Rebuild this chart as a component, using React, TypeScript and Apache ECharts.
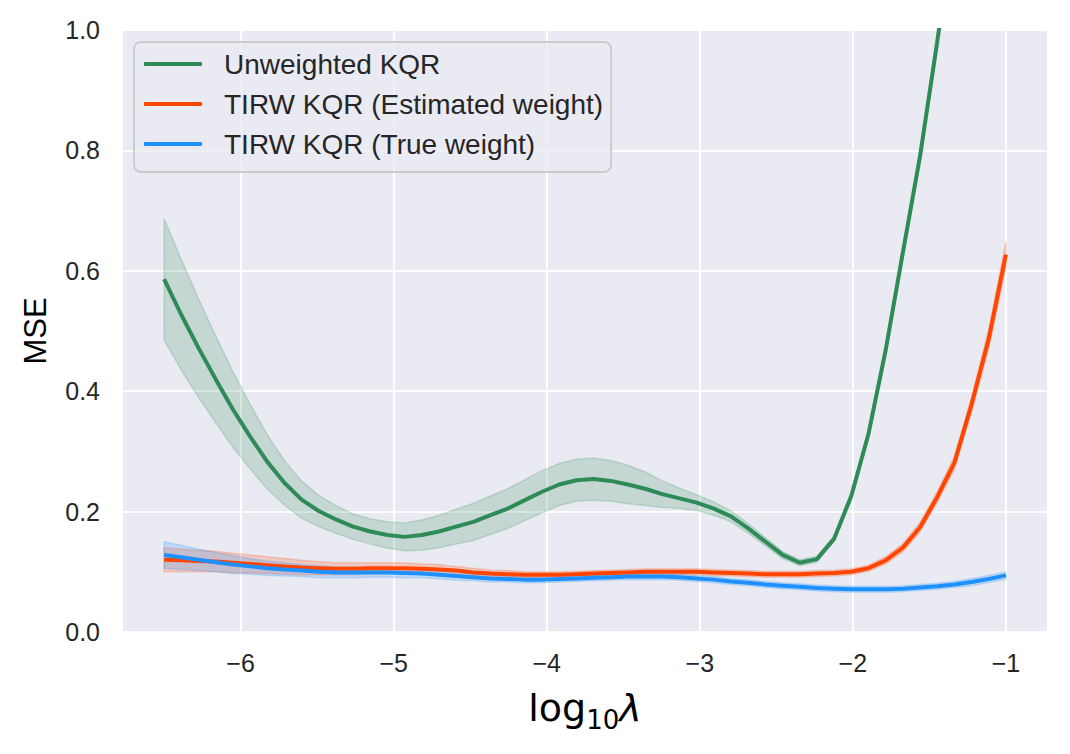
import React, { useEffect, useRef } from "react";
import * as echarts from "echarts";

// log10(lambda) grid
const logLambda = [
  -6.5, -6.3878, -6.2755, -6.1633, -6.051, -5.9388, -5.8265, -5.7143, -5.602, -5.4898,
  -5.3776, -5.2653, -5.1531, -5.0408, -4.9286, -4.8163, -4.7041, -4.5918, -4.4796, -4.3673,
  -4.2551, -4.1429, -4.0306, -3.9184, -3.8061, -3.6939, -3.5816, -3.4694, -3.3571, -3.2449,
  -3.1327, -3.0204, -2.9082, -2.7959, -2.6837, -2.5714, -2.4592, -2.3469, -2.2347, -2.1224,
  -2.0102, -1.898, -1.7857, -1.6735, -1.5612, -1.449, -1.3367, -1.2245, -1.1122, -1.0,
];

const unweightedMean = [
  0.586, 0.527, 0.472, 0.42, 0.37, 0.325, 0.283, 0.248, 0.22, 0.201,
  0.187, 0.175, 0.167, 0.161, 0.158, 0.161, 0.167, 0.175, 0.183, 0.194,
  0.205, 0.219, 0.233, 0.245, 0.252, 0.254, 0.251, 0.245, 0.238, 0.229,
  0.222, 0.215, 0.205, 0.192, 0.172, 0.15, 0.128, 0.115, 0.121, 0.155,
  0.226, 0.329, 0.468, 0.63, 0.79, 0.98, 1.18, 1.4, 1.65, 1.92,
];
const unweightedHalf = [
  0.101, 0.092, 0.082, 0.072, 0.063, 0.054, 0.045, 0.037, 0.031, 0.026,
  0.023, 0.021, 0.021, 0.022, 0.023, 0.025, 0.027, 0.029, 0.031, 0.032,
  0.033, 0.034, 0.035, 0.035, 0.035, 0.035, 0.034, 0.032, 0.028, 0.022,
  0.017, 0.013, 0.011, 0.009, 0.008, 0.007, 0.006, 0.005, 0.005, 0.005,
  0.006, 0.007, 0.008, 0.009, 0.01, 0.011, 0.012, 0.013, 0.014, 0.015,
];

const estimatedMean = [
  0.12, 0.119, 0.118, 0.117, 0.115, 0.113, 0.111, 0.109, 0.107, 0.106,
  0.105, 0.105, 0.106, 0.106, 0.106, 0.105, 0.104, 0.102, 0.099, 0.097,
  0.096, 0.095, 0.095, 0.095, 0.096, 0.097, 0.098, 0.099, 0.1, 0.1,
  0.1, 0.1, 0.099, 0.098, 0.097, 0.096, 0.096, 0.096, 0.097, 0.098,
  0.1, 0.106, 0.119, 0.14, 0.174, 0.224, 0.281, 0.378, 0.487, 0.627,
];
const estimatedHalf = [
  0.02, 0.019, 0.018, 0.017, 0.016, 0.015, 0.014, 0.013, 0.012, 0.011,
  0.01, 0.01, 0.009, 0.009, 0.009, 0.008, 0.008, 0.007, 0.007, 0.006,
  0.006, 0.005, 0.005, 0.005, 0.005, 0.005, 0.005, 0.005, 0.005, 0.005,
  0.005, 0.005, 0.005, 0.005, 0.005, 0.005, 0.005, 0.005, 0.005, 0.005,
  0.005, 0.005, 0.006, 0.007, 0.008, 0.009, 0.011, 0.013, 0.016, 0.022,
];

const trueMean = [
  0.128, 0.124, 0.12, 0.116, 0.112, 0.109, 0.106, 0.104, 0.102, 0.1,
  0.099, 0.099, 0.099, 0.099, 0.098, 0.097, 0.095, 0.093, 0.091, 0.089,
  0.088, 0.087, 0.087, 0.088, 0.089, 0.09, 0.091, 0.092, 0.092, 0.092,
  0.091, 0.089, 0.087, 0.084, 0.082, 0.079, 0.077, 0.075, 0.073, 0.072,
  0.071, 0.071, 0.071, 0.072, 0.074, 0.076, 0.079, 0.083, 0.088, 0.094,
];
const trueHalf = [
  0.022, 0.02, 0.018, 0.016, 0.015, 0.013, 0.012, 0.011, 0.01, 0.01,
  0.009, 0.009, 0.008, 0.008, 0.008, 0.007, 0.007, 0.007, 0.006, 0.006,
  0.005, 0.005, 0.005, 0.005, 0.005, 0.005, 0.005, 0.005, 0.005, 0.005,
  0.005, 0.005, 0.005, 0.005, 0.005, 0.005, 0.005, 0.005, 0.005, 0.005,
  0.005, 0.005, 0.005, 0.005, 0.005, 0.005, 0.005, 0.006, 0.006, 0.006,
];

const seriesNames = ["Unweighted KQR", "TIRW KQR (Estimated weight)", "TIRW KQR (True weight)"];
const seriesColors = ["#2E8B57", "#FF4500", "#1E90FF"];
const yTicks = [0, 0.2, 0.4, 0.6, 0.8, 1.0];

const TEXT = "#262626";
const SANS = "'Liberation Sans', Arial, sans-serif";

function bandSeries(name: string, mean: number[], half: number[], color: string) {
  const data = logLambda.map((x, i) => [x, mean[i] - half[i], mean[i] + half[i]]);
  return {
    type: "custom",
    name: name + " band",
    silent: true,
    clip: true,
    data,
    encode: { x: 0, y: [1, 2] },
    renderItem: (params: any, api: any) => {
      if (params.dataIndex !== 0) return null;
      const upper = data.map((d) => api.coord([d[0], d[2]]));
      const lower = data.map((d) => api.coord([d[0], d[1]])).reverse();
      return {
        type: "polygon",
        shape: { points: upper.concat(lower) },
        style: { fill: color, stroke: color, lineWidth: 1.5, opacity: 0.2 },
      };
    },
  };
}

function lineSeries(name: string, mean: number[], color: string) {
  return {
    type: "line",
    name,
    data: logLambda.map((x, i) => [x, mean[i]]),
    symbol: "none",
    showSymbol: false,
    clip: true,
    color,
    lineStyle: { color, width: 4 },
  };
}

export default function App() {
  const ref = useRef<HTMLDivElement>(null);
  useEffect(() => {
    document.body.style.margin = "0";
    if (!ref.current) return;
    const chart = echarts.init(ref.current, undefined, { renderer: "svg" });
    const means = [unweightedMean, estimatedMean, trueMean];
    const halves = [unweightedHalf, estimatedHalf, trueHalf];
    const series: any[] = [];
    seriesNames.forEach((n, k) => {
      series.push(bandSeries(n, means[k], halves[k], seriesColors[k]));
      series.push(lineSeries(n, means[k], seriesColors[k]));
    });
    chart.setOption({
      animation: false,
      backgroundColor: "#ffffff",
      grid: {
        left: 122,
        right: 22,
        top: 30,
        bottom: 122,
        show: true,
        backgroundColor: "#EAEAF2",
        borderWidth: 0,
        containLabel: false,
        outerBoundsMode: "none",
      },
      legend: {
        data: seriesNames.map((n) => ({ name: n, icon: "roundRect" })),
        orient: "vertical",
        left: 134,
        top: 42,
        itemWidth: 58,
        itemHeight: 4,
        itemGap: 12,
        padding: [8, 8, 14, 10],
        backgroundColor: "rgba(234,234,242,0.8)",
        borderColor: "#cccccc",
        borderWidth: 2,
        borderRadius: 7,
        selectedMode: false,
        textStyle: {
          fontSize: 28,
          fontFamily: SANS,
          color: TEXT,
          lineHeight: 28,
          padding: [0, 0, 0, 17],
        },
      },
      xAxis: {
        type: "value",
        min: -6.775,
        max: -0.725,
        minInterval: 1,
        maxInterval: 1,
        axisLine: { show: false },
        axisTick: { show: false },
        splitLine: { show: true, lineStyle: { color: "#ffffff", width: 2 } },
        axisLabel: {
          fontSize: 25,
          fontFamily: SANS,
          color: TEXT,
          margin: 18,
          showMinLabel: false,
          showMaxLabel: false,
          formatter: (v: number) =>
            Math.abs(v - Math.round(v)) < 1e-6 ? String(Math.round(v)).replace("-", "\u2212") : "",
        },
        name: "{a|log}{b|10}{c|λ}",
        nameLocation: "middle",
        nameGap: 51,
        nameTextStyle: {
          rich: {
            a: { fontFamily: "'DejaVu Sans'", fontSize: 38, color: "#000", lineHeight: 50 },
            b: { fontFamily: "'DejaVu Sans'", fontSize: 26, color: "#000", lineHeight: 26, verticalAlign: "bottom" },
            c: { fontFamily: "'DejaVu Sans'", fontSize: 38, fontStyle: "italic", color: "#000", lineHeight: 50 },
          },
        },
      },
      yAxis: {
        type: "value",
        min: yTicks[0],
        max: yTicks[yTicks.length - 1],
        interval: 0.2,
        axisLine: { show: false },
        axisTick: { show: false },
        splitLine: { show: true, lineStyle: { color: "#ffffff", width: 2 } },
        axisLabel: {
          fontSize: 25,
          fontFamily: SANS,
          color: TEXT,
          margin: 22,
          formatter: (v: number) => v.toFixed(1),
        },
        name: "MSE",
        nameLocation: "middle",
        nameGap: 71,
        nameTextStyle: { fontSize: 31, fontFamily: SANS, color: "#000" },
      },
      series,
    });
    return () => chart.dispose();
  }, []);
  return <div ref={ref} style={{ width: 1070, height: 754 }} />;
}
